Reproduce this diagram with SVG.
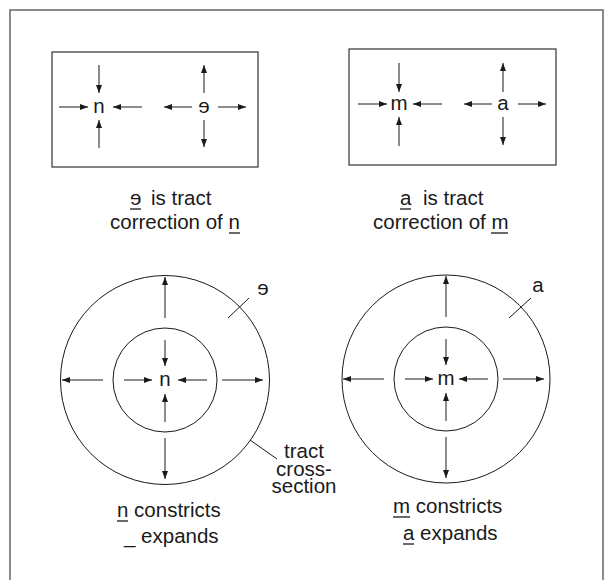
<svg xmlns="http://www.w3.org/2000/svg" width="605" height="580" viewBox="0 0 605 580">
<defs>
<marker id="ah" markerUnits="userSpaceOnUse" markerWidth="8" markerHeight="6" refX="8" refY="3" orient="auto">
<path d="M0,0 L8,3 L0,6 z" fill="#1a1a1a"/>
</marker>
<style>
.t{font-family:"Liberation Sans",Arial,sans-serif;font-size:20.5px;fill:#1a1a1a}
.a{stroke:#1a1a1a;stroke-width:1;fill:none;marker-end:url(#ah)}
.l{stroke:#1a1a1a;stroke-width:1;fill:none}
.u{stroke:#1a1a1a;stroke-width:1.3;fill:none}
.b{stroke:#333;stroke-width:1.2;fill:#fff}
.c{stroke:#1a1a1a;stroke-width:1;fill:none}
</style>
</defs>
<rect x="0" y="0" width="605" height="580" fill="#fff"/>
<rect x="10" y="10" width="593" height="600" fill="#fff" stroke="#666" stroke-width="1.5"/>

<g id="box-n-schwa">
<rect class="b" x="52" y="52" width="206" height="115"/>
<text class="t" x="99" y="112.5" text-anchor="middle">n</text>
<text class="t" x="204" y="112.5" text-anchor="middle">ɘ</text>
</g>
<g id="box-m-a">
<rect class="b" x="349" y="49" width="207" height="116"/>
<text class="t" x="399" y="109.5" text-anchor="middle">m</text>
<text class="t" x="503" y="109.5" text-anchor="middle">a</text>
</g>

<g id="caption-left">
<text class="t" x="130" y="205">ɘ</text>
<text class="t" x="151" y="205">is tract</text>
<text class="t" x="110" y="229">correction of n</text>
<line class="u" x1="130" y1="209" x2="141" y2="209"/>
<line class="u" x1="229" y1="233" x2="240" y2="233"/>
</g>
<g id="caption-right">
<text class="t" x="400" y="205">a</text>
<text class="t" x="423" y="205">is tract</text>
<text class="t" x="373" y="229">correction of m</text>
<line class="u" x1="400" y1="209" x2="411" y2="209"/>
<line class="u" x1="491" y1="233" x2="508" y2="233"/>
</g>

<g id="circle-left">
<circle class="c" cx="165" cy="380" r="104.5"/>
<circle class="c" cx="165" cy="380" r="52"/>
<text class="t" x="165" y="385.5" text-anchor="middle">n</text>
<text class="t" x="263" y="295" text-anchor="middle">ɘ</text>
</g>
<g id="circle-right">
<circle class="c" cx="446" cy="379" r="104"/>
<circle class="c" cx="446" cy="379" r="52"/>
<text class="t" x="446" y="384.5" text-anchor="middle">m</text>
<text class="t" x="538" y="292" text-anchor="middle">a</text>
</g>

<g id="label-tract">
<text class="t" x="304" y="458" text-anchor="middle">tract</text>
<text class="t" x="304" y="476" text-anchor="middle">cross-</text>
<text class="t" x="304" y="493" text-anchor="middle">section</text>
</g>

<g id="caption-bottom-left">
<text class="t" x="117" y="517">n constricts</text>
<text class="t" x="124" y="543">_ expands</text>
<line class="u" x1="117" y1="521" x2="128" y2="521"/>
</g>
<g id="caption-bottom-right">
<text class="t" x="393" y="513">m constricts</text>
<text class="t" x="403" y="540">a expands</text>
<line class="u" x1="393" y1="517" x2="410" y2="517"/>
<line class="u" x1="403" y1="544" x2="414" y2="544"/>
</g>

<g id="connectors">
<line class="a" x1="99" y1="65" x2="99" y2="93"/>
<line class="a" x1="99" y1="148" x2="99" y2="120"/>
<line class="a" x1="59" y1="107" x2="88" y2="107"/>
<line class="a" x1="142" y1="107" x2="113" y2="107"/>
<line class="a" x1="204" y1="93" x2="204" y2="65"/>
<line class="a" x1="204" y1="120" x2="204" y2="147"/>
<line class="a" x1="192" y1="107" x2="164" y2="107"/>
<line class="a" x1="218" y1="107" x2="246" y2="107"/>

<line class="a" x1="399" y1="63" x2="399" y2="92"/>
<line class="a" x1="399" y1="146" x2="399" y2="117"/>
<line class="a" x1="358" y1="104" x2="387" y2="104"/>
<line class="a" x1="442" y1="104" x2="413" y2="104"/>
<line class="a" x1="503" y1="92" x2="503" y2="63"/>
<line class="a" x1="503" y1="117" x2="503" y2="145"/>
<line class="a" x1="492" y1="104" x2="464" y2="104"/>
<line class="a" x1="518" y1="104" x2="546" y2="104"/>

<line class="a" x1="165" y1="318" x2="165" y2="277"/>
<line class="a" x1="165" y1="438" x2="165" y2="479"/>
<line class="a" x1="103" y1="380" x2="62" y2="380"/>
<line class="a" x1="222" y1="380" x2="263" y2="380"/>
<line class="a" x1="165" y1="340" x2="165" y2="366"/>
<line class="a" x1="165" y1="422" x2="165" y2="394"/>
<line class="a" x1="124" y1="380" x2="152" y2="380"/>
<line class="a" x1="207" y1="380" x2="178" y2="380"/>

<line class="a" x1="446" y1="317" x2="446" y2="276"/>
<line class="a" x1="446" y1="437" x2="446" y2="478"/>
<line class="a" x1="384" y1="379" x2="343" y2="379"/>
<line class="a" x1="503" y1="379" x2="544" y2="379"/>
<line class="a" x1="446" y1="339" x2="446" y2="365"/>
<line class="a" x1="446" y1="421" x2="446" y2="393"/>
<line class="a" x1="405" y1="379" x2="433" y2="379"/>
<line class="a" x1="488" y1="379" x2="459" y2="379"/>

<line class="l" x1="228" y1="318" x2="249" y2="298"/>
<line class="l" x1="509" y1="318" x2="531" y2="298"/>
<line class="l" x1="250" y1="440" x2="277" y2="459"/>
</g>
</svg>
